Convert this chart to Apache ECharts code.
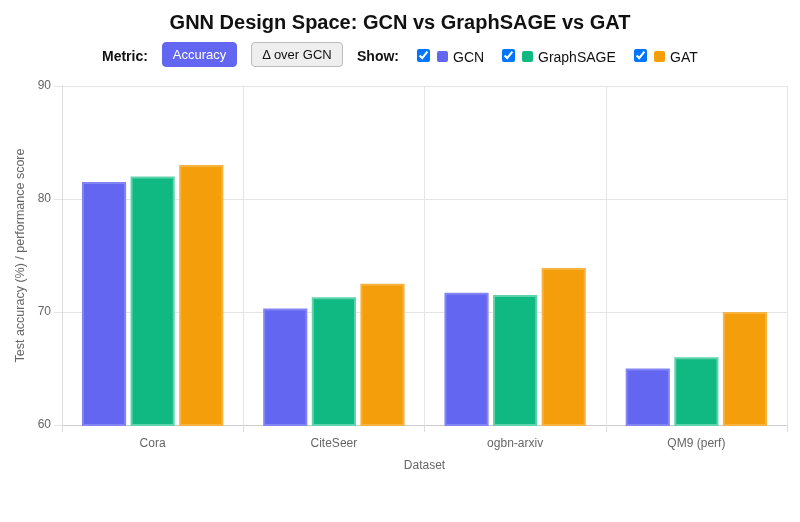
<!DOCTYPE html>
<html><head><meta charset="utf-8">
<script src="https://cdn.jsdelivr.net/npm/echarts@6/dist/echarts.min.js"></script>
<style>
body{margin:0;background:#fff;font-family:"Liberation Sans",Arial,Helvetica,sans-serif;}
#wrap{position:relative;width:800px;height:522px;overflow:hidden;}
#chart{position:absolute;left:0;top:0;width:800px;height:522px;}
.ctl{position:absolute;font-size:14px;color:#111;line-height:16px;white-space:nowrap;z-index:2;}
.lbl{font-weight:bold;top:48px;}
.btn{top:42px;height:25px;box-sizing:border-box;border-radius:4px;font-size:13px;line-height:23px;text-align:center;}
.btn.on{background:#6366f1;color:#fff;border:1px solid #6366f1;}
.btn.off{background:#eee;color:#111;border:1px solid #bbb;}
.cb{top:49px;margin:0;width:13px;height:13px;}
.sw{top:51px;width:11px;height:11px;border-radius:2px;}
.nm{top:49px;}
</style></head>
<body><div id="wrap">
<div id="chart"></div>
<span class="ctl lbl" style="left:102px">Metric:</span>
<div class="ctl btn on" style="left:162px;width:75px">Accuracy</div>
<div class="ctl btn off" style="left:251px;width:92px">Δ over GCN</div>
<span class="ctl lbl" style="left:357px">Show:</span>
<input type="checkbox" checked class="ctl cb" style="left:417px">
<span class="ctl sw" style="left:437px;background:#6366f1"></span>
<span class="ctl nm" style="left:453px">GCN</span>
<input type="checkbox" checked class="ctl cb" style="left:502px">
<span class="ctl sw" style="left:522px;background:#10b981"></span>
<span class="ctl nm" style="left:538px">GraphSAGE</span>
<input type="checkbox" checked class="ctl cb" style="left:634px">
<span class="ctl sw" style="left:654px;background:#f59e0b"></span>
<span class="ctl nm" style="left:670px">GAT</span>
</div>
<script>
const categories = ["Cora", "CiteSeer", "ogbn-arxiv", "QM9 (perf)"];
const gcn = [81.5, 70.3, 71.7, 65.0];
const graphsage = [82.0, 71.3, 71.5, 66.0];
const gat = [83.0, 72.5, 73.9, 70.0];
const yTicks = [60, 70, 80, 90];

const chart = echarts.init(document.getElementById('chart'), null, {renderer:'canvas'});
const font = '"Liberation Sans", Arial, Helvetica, sans-serif';
function ser(name, data, color, border){
  return {name, type:'bar', data, barGap:'10%', barCategoryGap:'22%',
    itemStyle:{color, borderColor:border, borderWidth:2}};
}
chart.setOption({
  animation:false,
  title:{text:'GNN Design Space: GCN vs GraphSAGE vs GAT', left:'center', top:8,
    textStyle:{fontFamily:font, fontSize:20, fontWeight:'bold', color:'#111'}},
  grid:{left:62, right:13, top:86, bottom:97, containLabel:false},
  xAxis:{type:'category', data:categories, name:'Dataset', nameLocation:'middle', nameGap:35,
    nameTextStyle:{fontFamily:font, fontSize:12, color:'#666'},
    axisLine:{lineStyle:{color:'#ccc'}},
    axisTick:{show:true, length:7, lineStyle:{color:'#ddd'}},
    axisLabel:{fontFamily:font, fontSize:12, color:'#666', margin:13},
    splitLine:{show:true, lineStyle:{color:'#e5e5e5'}}},
  yAxis:{type:'value', min:yTicks[0], max:yTicks[yTicks.length-1], interval:10,
    name:'Test accuracy (%) / performance score', nameLocation:'middle', nameGap:29,
    nameTextStyle:{fontFamily:font, fontSize:12.5, color:'#666'},
    axisLine:{show:true, lineStyle:{color:'#ddd'}},
    axisTick:{show:true, length:8, lineStyle:{color:'#e5e5e5'}},
    axisLabel:{fontFamily:font, fontSize:12, color:'#666', margin:11},
    splitLine:{lineStyle:{color:'#e5e5e5'}}},
  series:[
    ser('GCN', gcn, '#6366f1', '#8385f5'),
    ser('GraphSAGE', graphsage, '#10b981', '#5fd3ab'),
    ser('GAT', gat, '#f59e0b', '#f7b340')
  ]
});
</script>
</body></html>
